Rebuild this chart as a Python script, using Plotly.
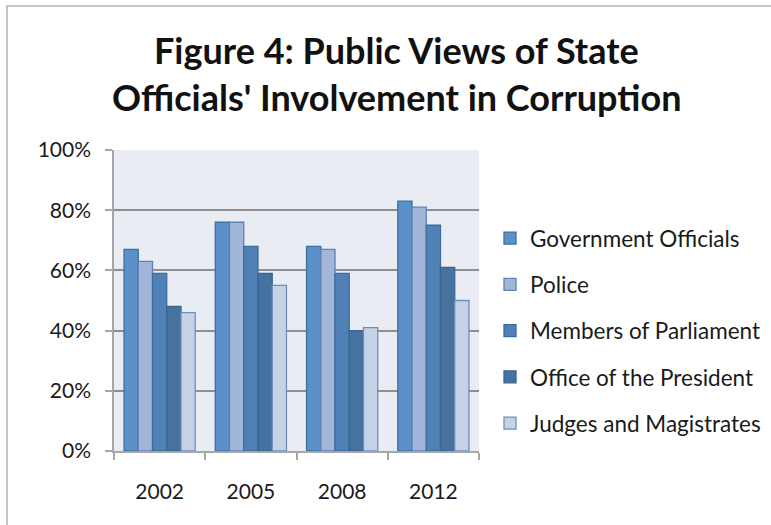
import plotly.graph_objects as go

years = ["2002", "2005", "2008", "2012"]
government_officials = [67, 76, 68, 83]
police = [63, 76, 67, 81]
members_of_parliament = [59, 68, 59, 75]
office_of_the_president = [48, 59, 40, 61]
judges_and_magistrates = [46, 55, 41, 50]

series_names = ["Government Officials", "Police", "Members of Parliament",
                "Office of the President", "Judges and Magistrates"]
series_values = [government_officials, police, members_of_parliament,
                 office_of_the_president, judges_and_magistrates]
fill_colors = ["#5b90c8", "#a3b5d9", "#4f81b6", "#46729f", "#c6d3e6"]
line_colors = ["#3f6fa3", "#5d82b4", "#3d6c9e", "#3a6590", "#6d8fbd"]

FONT = "Lato"

fig = go.Figure()
for i, (name, vals) in enumerate(zip(series_names, series_values)):
    fig.add_trace(go.Bar(
        x=years, y=vals, name=name, legendgroup=name,
        marker=dict(color=fill_colors[i], line=dict(color=line_colors[i], width=1.3)),
    ))

W, H = 771, 525
L, R, T, B = 114, 292, 150, 74
pw, ph = W - L - R, H - T - B

def px_x(p):
    return (p - L) / pw

def px_y(p):
    return (H - B - p) / ph

fig.update_layout(
    width=W, height=H,
    margin=dict(l=L, r=R, t=T, b=B, autoexpand=False),
    paper_bgcolor="white",
    plot_bgcolor="#e9edf3",
    barmode="group",
    bargap=0.22,
    bargroupgap=0,
    font=dict(family=FONT, color="#1a1a1a"),
    showlegend=True,
    legend=dict(
        x=px_x(490), y=px_y(217), xanchor="left", yanchor="top",
        font=dict(family=FONT, size=22.5, color="#1a1a1a"),
        tracegroupgap=14, itemwidth=30,
        bgcolor="rgba(0,0,0,0)",
    ),
    xaxis=dict(
        showline=True, linecolor="#a6a6a6", linewidth=1.5,
        ticks="outside", tickson="boundaries", ticklen=7, tickcolor="#a6a6a6", tickwidth=1.5,
        tickfont=dict(family=FONT, size=21, color="#1a1a1a"),
        ticklabelstandoff=21,
        showgrid=False, zeroline=False,
    ),
    yaxis=dict(
        range=[0, 100], dtick=20, ticksuffix="%",
        showline=True, linecolor="#a6a6a6", linewidth=1.5,
        ticks="outside", ticklen=7, tickcolor="#a6a6a6", tickwidth=1.5,
        tickfont=dict(family=FONT, size=21, color="#1a1a1a"),
        ticklabelstandoff=10,
        showgrid=True, gridcolor="#8f8f8f", gridwidth=1.5,
        zeroline=False,
    ),
    annotations=[
        dict(text="<b>Figure 4: Public Views of State</b>", x=px_x(396), y=px_y(50),
             xref="paper", yref="paper", showarrow=False, xanchor="center", yanchor="middle",
             font=dict(family=FONT, size=36, color="#111111")),
        dict(text="<b>Officials' Involvement in Corruption</b>", x=px_x(396), y=px_y(97),
             xref="paper", yref="paper", showarrow=False, xanchor="center", yanchor="middle",
             font=dict(family=FONT, size=36, color="#111111")),
    ],
    shapes=[
        dict(type="rect", xref="paper", yref="paper",
             x0=px_x(7), x1=px_x(900), y0=px_y(700), y1=px_y(6),
             line=dict(color="#b3b3b3", width=1.5), fillcolor="rgba(0,0,0,0)", layer="below"),
    ],
)

fig.write_html("out.html", config={"displayModeBar": False},
               post_script="document.body.style.margin='0';")
